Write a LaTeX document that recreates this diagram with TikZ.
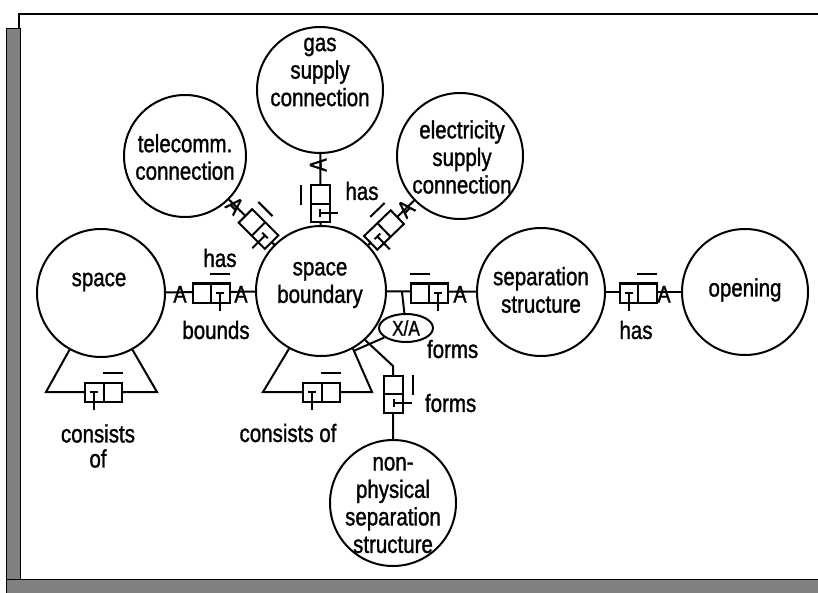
\documentclass[tikz,border=0pt]{standalone}
\usepackage{fontspec}
\setmainfont{Liberation Sans}
\newfontface\labfont{Liberation Sans}[FakeStretch=0.82,FakeBold=1.2]
\usetikzlibrary{shapes.geometric}
\newcommand{\RoleBox}[5]{%
  \begin{scope}[shift={#1},rotate=#2]
    \draw[fill=white] (-18.5,-9.5) rectangle (18.5,9.5);
    \draw (0,-9.5) -- (0,9.5);
    \draw (#3*9.25-10,-19) -- (#3*9.25+10,-19);
    \draw (#4*9.25-4,0) -- (#4*9.25+4,0);
    \draw (#4*9.25,0) -- (#4*9.25,#5*18);
  \end{scope}}
\begin{document}
\begin{tikzpicture}[x=1pt,y=-1pt,line width=2pt,
  ent/.style={draw,circle,inner sep=0pt},
  lab/.style={font=\labfont\fontsize{25}{27.5}\selectfont,align=center,inner sep=0pt},
  amark/.style={font=\labfont\fontsize{24}{24}\selectfont,inner sep=0pt,text height=17pt,text depth=0pt},
  shade/.style={fill=black!50,draw=black,line width=0.8pt}]
\useasboundingbox (0,0) rectangle (818,593);
% frame
\fill[white] (0,0) rectangle (818,593);
\draw[shade] (6,28) rectangle (20,593);
\draw[shade] (6,579) rectangle (818,593);
\draw[line width=2pt] (19,28) -- (19,14) -- (818,14);
% entity circles
\node[ent,minimum size=128pt] (space) at (101,293) {};
\node[ent,minimum size=130pt] (bound) at (321,291) {};
\node[ent,minimum size=126pt] (gas) at (320,90) {};
\node[ent,minimum size=122pt] (tele) at (185,156) {};
\node[ent,minimum size=126pt] (elec) at (460,156) {};
\node[ent,minimum size=128pt] (sep) at (541,292) {};
\node[ent,minimum size=126pt] (open) at (745,292) {};
\node[ent,minimum size=126pt] (nonph) at (393,503) {};
% entity texts
\node[lab] (t-space) at (99,282) {space};
\node[lab] (t-bound) at (320,285) {space\\boundary};
\node[lab] (t-gas) at (320,72) {gas\\supply\\connection};
\node[lab] (t-tele) at (185,157) {telecomm.\\connection};
\node[lab] (t-elec) at (462,157) {electricity\\supply\\connection};
\node[lab] (t-sep) at (541,290) {separation\\structure};
\node[lab] (t-open) at (745,290) {opening};
\node[lab] (t-nonph) at (393,505) {non-\\physical\\separation\\structure};
% X/A constraint
\node[draw,ellipse,fill=white,minimum width=54pt,minimum height=28pt,inner sep=0pt,
      font=\labfont\fontsize{21}{21}\selectfont] (xa) at (406,328) {X/A};
% connectors
\draw (space) -- (bound);
\draw (bound) -- (sep);
\draw (sep) -- (open);
\draw (bound) -- (gas);
\draw (bound) -- (tele);
\draw (bound) -- (elec);
\coordinate (j1) at (402,292);
\draw (j1) -- (xa);
\coordinate (j2) at (393,366);
\draw (bound.312) -- (j2) -- (nonph);
\coordinate (j3) at (353.5,351);
\draw (xa) -- (j3);
\draw (space.241) -- (46,392) -- (157,392) -- (space.299);
\draw (bound.241) -- (263,392) -- (372,392) -- (bound.299);
% role boxes
\RoleBox{(211,293)}{0}{1}{1}{1}
\RoleBox{(429,293)}{0}{-1}{1}{1}
\RoleBox{(638,293)}{0}{1}{-1}{1}
\RoleBox{(103.5,392)}{0}{1}{-1}{1}
\RoleBox{(321.5,392)}{0}{1}{-1}{1}
\RoleBox{(393.5,394)}{-90}{-1}{1}{-1}
\RoleBox{(320,204)}{90}{1}{-1}{1}
\RoleBox{(384,230)}{44}{1}{-1}{1}
\RoleBox{(258.5,229)}{-45}{-1}{1}{1}
% A marks
\node[amark] (a1) at (180,294) {A};
\node[amark] (a2) at (241,294) {A};
\node[amark] (a3) at (460,294) {A};
\node[amark] (a4) at (664,294) {A};
\node[amark,rotate=90] (a5) at (318,165) {A};
\node[amark,rotate=44] (a6) at (405.5,208.5) {A};
\node[amark,rotate=-45] (a7) at (235,205.5) {A};
% role labels
\node[lab] (l-has1) at (220,258) {has};
\node[lab] (l-bounds) at (216,330) {bounds};
\node[lab] (l-has2) at (362,191) {has};
\node[lab] (l-has3) at (636,330) {has};
\node[lab,anchor=west] (l-forms1) at (426,349) {forms};
\node[lab,anchor=west] (l-forms2) at (424,403) {forms};
\node[lab,font=\labfont\fontsize{25}{25}\selectfont] (l-cons1) at (98,446) {consists\\of};
\node[lab] (l-cons2) at (288,433) {consists of};
\end{tikzpicture}
\end{document}
